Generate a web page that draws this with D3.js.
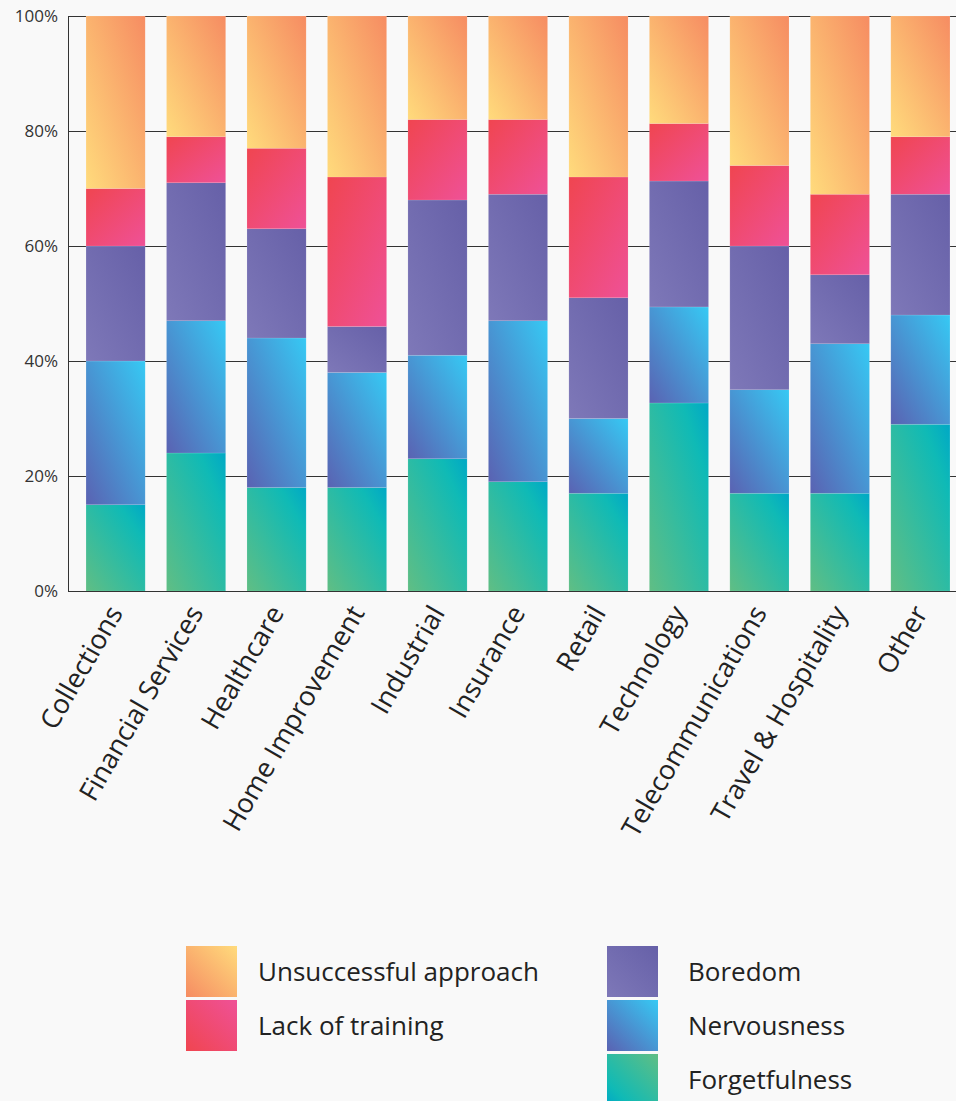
<!DOCTYPE html>
<html>
<head>
<meta charset="utf-8">
<script src="https://cdn.jsdelivr.net/npm/d3@7"></script>
<style>
  body { margin: 0; background: #f9f9f9; font-family: "Open Sans", sans-serif; }
  .tick text { font-family: "Open Sans", sans-serif; }
</style>
</head>
<body>
<div id="chart"></div>
<script>
// Chart size
var svgWidth = 956;
var svgHeight = 1101;

// Data: share of each reason per industry (%), stacked bottom to top
var categories = ["Collections", "Financial Services", "Healthcare", "Home Improvement",
  "Industrial", "Insurance", "Retail", "Technology", "Telecommunications",
  "Travel & Hospitality", "Other"];
var seriesNames = ["Forgetfulness", "Nervousness", "Boredom", "Lack of training", "Unsuccessful approach"];
var forgetfulness = [15, 24, 18, 18, 23, 19, 17, 32.7, 17, 17, 29];
var nervousness   = [25, 23, 26, 20, 18, 28, 13, 16.7, 18, 26, 19];
var boredom       = [20, 24, 19, 8, 27, 22, 21, 21.9, 25, 12, 21];
var lackTraining  = [10, 8, 14, 26, 14, 13, 21, 10, 14, 14, 10];
var unsuccessful  = [30, 21, 23, 28, 18, 18, 28, 18.7, 26, 31, 21];
var yTicks = [0, 20, 40, 60, 80, 100];

var seriesValues = [forgetfulness, nervousness, boredom, lackTraining, unsuccessful];
var rows = categories.map(function (c, i) {
  var row = {category: c};
  seriesNames.forEach(function (s, j) { row[s] = seriesValues[j][i]; });
  return row;
});

var svg = d3.select("#chart")
  .append("svg")
  .attr("width", svgWidth)
  .attr("height", svgHeight);

// Gradients, one for bars and one for legend squares
var defs = svg.append("defs");
var gradients = {
  "Forgetfulness":        {stops: [["0%", "#00a8c6"], ["22%", "#0fbab6"], ["100%", "#60be84"]], bar: [1, 0, 0, 1], legend: [0, 1, 1, 0]},
  "Nervousness":          {stops: [["0%", "#36c9f4"], ["100%", "#5a62b2"]], bar: [1, 0, 0, 1], legend: [1, 0, 0, 1]},
  "Boredom":              {stops: [["0%", "#6660a8"], ["100%", "#7e78b8"]], bar: [1, 0, 0, 1], legend: [1, 0, 0, 1]},
  "Lack of training":     {stops: [["0%", "#f04550"], ["100%", "#ef5197"]], bar: [0, 0, 1, 1], legend: [0, 1, 1, 0]},
  "Unsuccessful approach":{stops: [["0%", "#f68c62"], ["100%", "#ffdb7c"]], bar: [1, 0, 0, 1], legend: [0, 1, 1, 0]}
};
function addGradient(id, g, dir) {
  var lg = defs.append("linearGradient")
    .attr("id", id)
    .attr("x1", dir[0]).attr("y1", dir[1])
    .attr("x2", dir[2]).attr("y2", dir[3]);
  g.stops.forEach(function (s) {
    lg.append("stop").attr("offset", s[0]).attr("stop-color", s[1]);
  });
}
seriesNames.forEach(function (s, i) {
  addGradient("bar" + i, gradients[s], gradients[s].bar);
  addGradient("leg" + i, gradients[s], gradients[s].legend);
});

// Scales
var xScale = d3.scaleBand()
  .domain(categories)
  .range([68, 968])
  .paddingInner(0.265)
  .paddingOuter(0.224);

var yScale = d3.scaleLinear()
  .domain([0, 100])
  .range([591, 16]);

// Gridlines behind bars
svg.append("g")
  .selectAll("line")
  .data(yTicks)
  .enter()
  .append("line")
  .attr("x1", 68)
  .attr("x2", svgWidth)
  .attr("y1", d => yScale(d) + 0.5)
  .attr("y2", d => yScale(d) + 0.5)
  .attr("stroke", "#333")
  .attr("stroke-width", 1);

// Stacked bars
var stacked = d3.stack().keys(seriesNames)(rows);

svg.append("g")
  .selectAll("g")
  .data(stacked)
  .enter()
  .append("g")
  .attr("fill", (d, i) => "url(#bar" + i + ")")
  .selectAll("rect")
  .data(d => d)
  .enter()
  .append("rect")
  .attr("x", d => xScale(d.data.category))
  .attr("width", xScale.bandwidth())
  .attr("y", d => yScale(d[1]))
  .attr("height", d => yScale(d[0]) - yScale(d[1]))
  .attr("stroke", "rgba(255,255,255,0.2)")
  .attr("stroke-width", 0.6);

// Left axis
var leftAxis = d3.axisLeft(yScale)
  .tickValues(yTicks)
  .tickSize(0)
  .tickPadding(10)
  .tickFormat(d => d + "%");

var yAxisG = svg.append("g")
  .attr("transform", "translate(68, 0)")
  .call(leftAxis);
yAxisG.select(".domain").attr("stroke", "#333");
yAxisG.selectAll("text")
  .style("font-size", "17px")
  .attr("fill", "#333");

// Bottom axis line
svg.append("line")
  .attr("x1", 68).attr("x2", svgWidth)
  .attr("y1", 591.5).attr("y2", 591.5)
  .attr("stroke", "#333");

// Category labels, rotated
svg.append("g")
  .selectAll("text")
  .data(categories)
  .enter()
  .append("text")
  .attr("transform", d => `translate(${xScale(d) + xScale.bandwidth() / 2}, 608) rotate(-60)`)
  .attr("text-anchor", "end")
  .attr("dy", "0.35em")
  .style("font-size", "27px")
  .attr("fill", "#222")
  .text(d => d);

// Legend
var legendItems = [
  {name: "Unsuccessful approach", x: 186, y: 946},
  {name: "Lack of training", x: 186, y: 1000},
  {name: "Boredom", x: 607, y: 946},
  {name: "Nervousness", x: 607, y: 1000},
  {name: "Forgetfulness", x: 607, y: 1054}
];
var legend = svg.append("g")
  .selectAll("g")
  .data(legendItems)
  .enter()
  .append("g")
  .attr("transform", d => `translate(${d.x}, ${d.y})`);

legend.append("rect")
  .attr("width", 51)
  .attr("height", 51)
  .attr("fill", d => "url(#leg" + seriesNames.indexOf(d.name) + ")");

legend.append("text")
  .attr("x", d => d.x < 400 ? 72 : 81)
  .attr("y", 26)
  .attr("dy", "0.35em")
  .style("font-size", "26px")
  .attr("fill", "#222")
  .text(d => d.name);
</script>
</body>
</html>
